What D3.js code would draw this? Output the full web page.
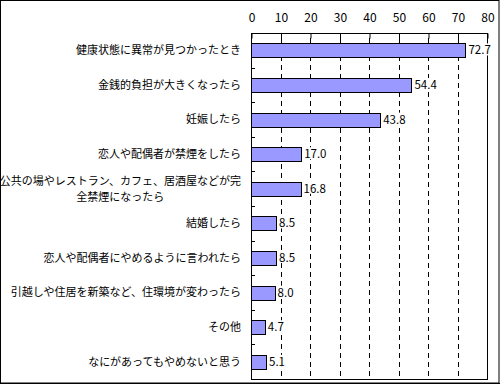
<!DOCTYPE html>
<html>
<head>
<meta charset="utf-8">
<script src="https://cdn.jsdelivr.net/npm/d3@7"></script>
<style>
  body { margin: 0; background: #fff; }
  svg text { font-family: "MS PGothic", "Noto Sans CJK JP", sans-serif; fill: #000; }
</style>
</head>
<body>
<div id="chart"></div>
<script>
// categories (line breaks where the original label wraps)
var categories = [
    ["健康状態に異常が見つかったとき"],
    ["金銭的負担が大きくなったら"],
    ["妊娠したら"],
    ["恋人や配偶者が禁煙をしたら"],
    ["公共の場やレストラン、カフェ、居酒屋などが完", "全禁煙になったら"],
    ["結婚したら"],
    ["恋人や配偶者にやめるように言われたら"],
    ["引越しや住居を新築など、住環境が変わったら"],
    ["その他"],
    ["なにがあってもやめないと思う"]
];
var values = [72.7, 54.4, 43.8, 17.0, 16.8, 8.5, 8.5, 8.0, 4.7, 5.1];
var ticks = [0, 10, 20, 30, 40, 50, 60, 70, 80];

var width = 500, height = 385;
var margin = {top: 33, right: 13, bottom: 6, left: 251};

var svg = d3.select("#chart").append("svg")
    .attr("width", width)
    .attr("height", height);

// outer frame
svg.append("rect")
    .attr("x", 0.5).attr("y", 0.5)
    .attr("width", width - 1.5).attr("height", height - 2.5)
    .attr("fill", "none").attr("stroke", "#000");
svg.append("line")
    .attr("x1", 0).attr("x2", width)
    .attr("y1", height - 1.5).attr("y2", height - 1.5)
    .attr("stroke", "#000");

var x = d3.scaleLinear()
    .domain([0, 80])
    .range([margin.left, width - margin.right]);

var y = d3.scaleBand()
    .domain(d3.range(categories.length))
    .range([margin.top, height - margin.bottom])
    .paddingInner(0.6)
    .paddingOuter(0.3);

var y0 = margin.top, y1 = height - margin.bottom;

// dashed gridlines
svg.append("g")
    .selectAll("line")
    .data(ticks.slice(1))
    .join("line")
    .attr("x1", d => Math.round(x(d)) + 0.5)
    .attr("x2", d => Math.round(x(d)) + 0.5)
    .attr("y1", y0 + 5)
    .attr("y2", y1)
    .attr("stroke", "#000")
    .attr("stroke-dasharray", "5,4");

// plot frame
svg.append("rect")
    .attr("x", Math.round(x(0)) + 0.5)
    .attr("y", y0 + 0.5)
    .attr("width", Math.round(x(80)) - Math.round(x(0)))
    .attr("height", y1 - y0)
    .attr("fill", "none")
    .attr("stroke", "#000");

// top axis
var xAxis = d3.axisTop(x)
    .tickValues(ticks)
    .tickSize(-5)
    .tickPadding(12);

svg.append("g")
    .attr("transform", "translate(0.5," + (y0 + 0.5) + ")")
    .call(xAxis)
    .call(g => g.select(".domain").remove())
    .call(g => g.selectAll("text")
        .style("font-size", "12px")
        .attr("font-family", null));

// small ticks on the category axis, at band boundaries
svg.append("g")
    .selectAll("line")
    .data(d3.range(1, categories.length))
    .join("line")
    .attr("x1", x(0))
    .attr("x2", x(0) + 4)
    .attr("y1", d => Math.round(y0 + d * (y1 - y0) / categories.length) + 0.5)
    .attr("y2", d => Math.round(y0 + d * (y1 - y0) / categories.length) + 0.5)
    .attr("stroke", "#000");

// bars
svg.append("g")
    .selectAll("rect")
    .data(values)
    .join("rect")
    .attr("x", Math.round(x(0)) + 0.5)
    .attr("y", (d, i) => Math.round(y(i)) + 0.5)
    .attr("width", d => Math.round(x(d) - x(0)))
    .attr("height", Math.round(y.bandwidth()))
    .attr("fill", "#9999ff")
    .attr("stroke", "#000");

// value labels, on a white box so the gridlines stay behind them
var vl = svg.append("g")
    .selectAll("g")
    .data(values)
    .join("g")
    .attr("transform", (d, i) => "translate(" + (x(d) + 3) + "," + (y(i) + y.bandwidth() / 2) + ")");
vl.append("rect").attr("fill", "#fff");
vl.append("text")
    .attr("dy", "0.36em")
    .style("font-size", "11.5px")
    .text(d => d.toFixed(1));
vl.each(function() {
    var b = d3.select(this).select("text").node().getBBox();
    d3.select(this).select("rect")
        .attr("x", b.x).attr("y", b.y + 2)
        .attr("width", b.width).attr("height", b.height - 4);
});

// category labels; a wrapped label gets a centred second line
var labelX = 241;
var fs = "11px";
var lineH = 16;
var labels = svg.append("g")
    .selectAll("g")
    .data(categories)
    .join("g")
    .attr("transform", (d, i) => "translate(0," + (y(i) + y.bandwidth() / 2) + ")");

labels.each(function(lines) {
    var g = d3.select(this);
    var off = -(lines.length - 1) * lineH / 2;
    var first = g.append("text")
        .attr("x", labelX)
        .attr("y", off)
        .attr("dy", "0.36em")
        .attr("text-anchor", "end")
        .style("font-size", fs)
        .text(lines[0]);
    if (lines.length > 1) {
        var w = first.node().getComputedTextLength();
        g.append("text")
            .attr("x", labelX - w / 2)
            .attr("y", off + lineH)
            .attr("dy", "0.36em")
            .attr("text-anchor", "middle")
            .style("font-size", fs)
            .text(lines[1]);
    }
});
</script>
</body>
</html>
